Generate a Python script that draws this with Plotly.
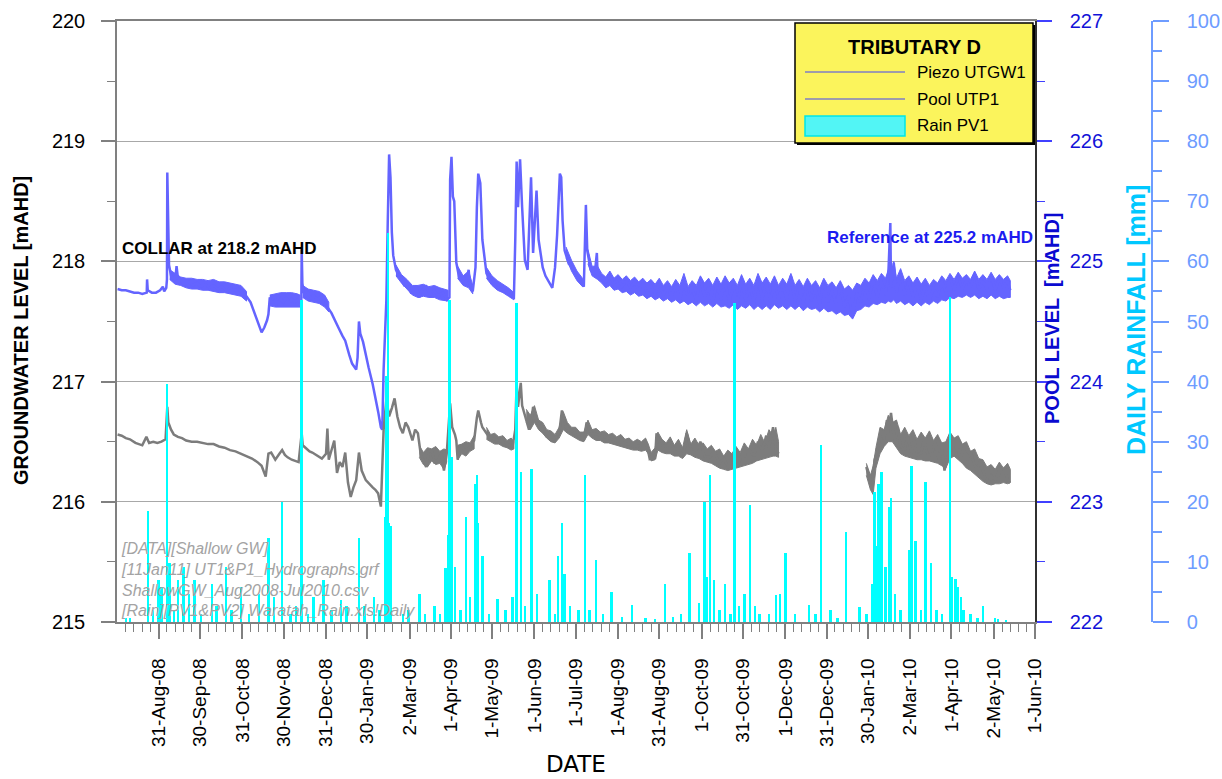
import pandas as pd
import plotly.graph_objects as go

# ---------------------------------------------------------------- data
tick_labels = ["31-Aug-08", "30-Sep-08", "31-Oct-08", "30-Nov-08", "31-Dec-08",
               "30-Jan-09", "2-Mar-09", "1-Apr-09", "1-May-09", "1-Jun-09",
               "1-Jul-09", "1-Aug-09", "31-Aug-09", "1-Oct-09", "31-Oct-09",
               "1-Dec-09", "31-Dec-09", "30-Jan-10", "2-Mar-10", "1-Apr-10",
               "2-May-10", "1-Jun-10"]

# Piezometer UTGW1 groundwater level [mAHD]
piezo_readings = [
    ("2008-08-01", 217.77), ("2008-08-04", 217.76), ("2008-08-07", 217.76), ("2008-08-10", 217.75),
    ("2008-08-13", 217.74), ("2008-08-16", 217.74), ("2008-08-19", 217.73), ("2008-08-22 06:00", 217.74),
    ("2008-08-22 12:00", 217.85), ("2008-08-23", 217.76), ("2008-08-26", 217.74), ("2008-08-29", 217.74),
    ("2008-09-01", 217.76), ("2008-09-03", 217.79), ("2008-09-04", 217.75), ("2008-09-05 12:00", 217.78),
    ("2008-09-06 00:00", 217.85), ("2008-09-06 06:00", 218.74), ("2008-09-06 18:00", 218.20),
    ("2008-09-07 12:00", 217.97), ("2008-09-09", 217.88), ("2008-09-11", 217.86), ("2008-09-12", 217.84),
    ("2008-09-13", 217.96), ("2008-09-14", 217.86), ("2008-09-16", 217.84), ("2008-09-19", 217.81),
    ("2008-09-22", 217.83), ("2008-09-25", 217.80), ("2008-09-28", 217.82), ("2008-10-01", 217.79),
    ("2008-10-04", 217.81), ("2008-10-07", 217.78), ("2008-10-10", 217.80), ("2008-10-13", 217.77),
    ("2008-10-16", 217.79), ("2008-10-19", 217.76), ("2008-10-22", 217.78), ("2008-10-25", 217.76),
    ("2008-10-28", 217.77), ("2008-10-31", 217.74), ("2008-11-03", 217.71), ("2008-11-06", 217.66),
    ("2008-11-09", 217.57), ("2008-11-12", 217.47), ("2008-11-14", 217.41), ("2008-11-16", 217.45),
    ("2008-11-18", 217.51), ("2008-11-19", 217.56), ("2008-11-20", 217.70), ("2008-11-22", 217.64),
    ("2008-11-24", 217.68), ("2008-11-26", 217.65), ("2008-11-28", 217.69), ("2008-11-30", 217.66),
    ("2008-12-02", 217.70), ("2008-12-04", 217.65), ("2008-12-06", 217.69), ("2008-12-08", 217.66),
    ("2008-12-10", 217.68), ("2008-12-12", 217.66), ("2008-12-13 00:00", 217.68), ("2008-12-13 06:00", 218.10),
    ("2008-12-13 18:00", 217.82), ("2008-12-14 12:00", 217.75), ("2008-12-16", 217.71), ("2008-12-18", 217.74),
    ("2008-12-20", 217.69), ("2008-12-22", 217.72), ("2008-12-24", 217.68), ("2008-12-26", 217.70),
    ("2008-12-29", 217.66), ("2009-01-01", 217.62), ("2009-01-04", 217.57), ("2009-01-07", 217.49),
    ("2009-01-09", 217.45), ("2009-01-12", 217.38), ("2009-01-14", 217.34), ("2009-01-17", 217.22),
    ("2009-01-19", 217.15), ("2009-01-22", 217.10), ("2009-01-23", 217.20), ("2009-01-24", 217.50),
    ("2009-01-25", 217.40), ("2009-01-27", 217.33), ("2009-01-29", 217.22), ("2009-01-31", 217.12),
    ("2009-02-03", 216.98), ("2009-02-05", 216.87), ("2009-02-07", 216.75), ("2009-02-09", 216.62),
    ("2009-02-10", 216.60), ("2009-02-11", 217.10), ("2009-02-12", 217.45), ("2009-02-13", 217.68),
    ("2009-02-14", 218.32), ("2009-02-15", 218.89), ("2009-02-16", 218.70), ("2009-02-17", 218.24),
    ("2009-02-18", 218.05), ("2009-02-20", 217.93), ("2009-02-22", 217.88), ("2009-02-24", 217.85),
    ("2009-02-26", 217.80), ("2009-03-01", 217.79), ("2009-03-03", 217.74), ("2009-03-06", 217.74),
    ("2009-03-07", 217.80), ("2009-03-09", 217.70), ("2009-03-11", 217.76), ("2009-03-14", 217.79),
    ("2009-03-17", 217.72), ("2009-03-20", 217.76), ("2009-03-23", 217.71), ("2009-03-26", 217.74),
    ("2009-03-29", 217.68), ("2009-03-31 00:00", 217.70), ("2009-03-31 12:00", 218.68),
    ("2009-04-01 12:00", 218.87), ("2009-04-02 12:00", 218.54), ("2009-04-03 12:00", 218.50),
    ("2009-04-05", 217.99), ("2009-04-07", 217.87), ("2009-04-09", 217.84), ("2009-04-12", 217.82),
    ("2009-04-14", 217.93), ("2009-04-15", 217.80), ("2009-04-17", 217.75), ("2009-04-19", 217.95),
    ("2009-04-20", 218.45), ("2009-04-21", 218.73), ("2009-04-22 12:00", 218.65), ("2009-04-24", 218.18),
    ("2009-04-27", 217.90), ("2009-04-30", 217.84), ("2009-05-04", 217.79), ("2009-05-07", 217.77),
    ("2009-05-11", 217.75), ("2009-05-14", 217.72), ("2009-05-17", 217.70), ("2009-05-18", 218.18),
    ("2009-05-19", 218.83), ("2009-05-20", 218.45), ("2009-05-21 12:00", 218.85), ("2009-05-23", 218.45),
    ("2009-05-25", 218.01), ("2009-05-27", 217.93), ("2009-05-28", 218.29), ("2009-05-29 12:00", 218.70),
    ("2009-05-31", 218.07), ("2009-06-01", 218.26), ("2009-06-02 12:00", 218.59), ("2009-06-04", 218.18),
    ("2009-06-07", 217.95), ("2009-06-09", 217.88), ("2009-06-12", 217.82), ("2009-06-14", 217.78),
    ("2009-06-16", 217.95), ("2009-06-17 12:00", 218.22), ("2009-06-19 12:00", 218.73),
    ("2009-06-20 12:00", 218.70), ("2009-06-21 12:00", 218.34), ("2009-06-23", 218.09), ("2009-06-26", 217.98),
    ("2009-06-29", 217.95), ("2009-07-02", 217.87), ("2009-07-05", 217.83), ("2009-07-07", 217.79),
    ("2009-07-08", 218.18), ("2009-07-08 12:00", 218.47), ("2009-07-09 12:00", 218.09), ("2009-07-12", 217.93),
    ("2009-07-15", 217.90), ("2009-07-16 12:00", 218.07), ("2009-07-17", 217.90), ("2009-07-20", 217.87),
    ("2009-07-23", 217.83), ("2009-07-26", 217.88), ("2009-07-29", 217.81), ("2009-08-01", 217.86),
    ("2009-08-04", 217.79), ("2009-08-07", 217.84), ("2009-08-10", 217.78), ("2009-08-13", 217.83),
    ("2009-08-16", 217.76), ("2009-08-19", 217.82), ("2009-08-22", 217.74), ("2009-08-25", 217.80),
    ("2009-08-28", 217.73), ("2009-08-31", 217.81), ("2009-09-03", 217.72), ("2009-09-06", 217.79),
    ("2009-09-09", 217.71), ("2009-09-12", 217.80), ("2009-09-15", 217.68), ("2009-09-18", 217.84),
    ("2009-09-21", 217.69), ("2009-09-24", 217.78), ("2009-09-27", 217.67), ("2009-09-30", 217.86),
    ("2009-10-03", 217.70), ("2009-10-06", 217.79), ("2009-10-09", 217.66), ("2009-10-12", 217.82),
    ("2009-10-15", 217.68), ("2009-10-18", 217.84), ("2009-10-21", 217.66), ("2009-10-24", 217.80),
    ("2009-10-27", 217.64), ("2009-10-30", 217.86), ("2009-11-02", 217.67), ("2009-11-05", 217.80),
    ("2009-11-08", 217.65), ("2009-11-11", 217.87), ("2009-11-14", 217.68), ("2009-11-17", 217.83),
    ("2009-11-20", 217.66), ("2009-11-23", 217.85), ("2009-11-26", 217.67), ("2009-11-29", 217.82),
    ("2009-12-02", 217.68), ("2009-12-05", 217.88), ("2009-12-08", 217.66), ("2009-12-11", 217.80),
    ("2009-12-14", 217.65), ("2009-12-17", 217.83), ("2009-12-20", 217.67), ("2009-12-23", 217.78),
    ("2009-12-26", 217.64), ("2009-12-29", 217.84), ("2010-01-01", 217.66), ("2010-01-04", 217.76),
    ("2010-01-07", 217.64), ("2010-01-10", 217.80), ("2010-01-13", 217.62), ("2010-01-16", 217.72),
    ("2010-01-19", 217.54), ("2010-01-22", 217.74), ("2010-01-25", 217.66), ("2010-01-28", 217.82),
    ("2010-01-31", 217.68), ("2010-02-03", 217.86), ("2010-02-06", 217.70), ("2010-02-09", 217.84),
    ("2010-02-12", 217.72), ("2010-02-14", 217.88), ("2010-02-15 12:00", 218.32), ("2010-02-16", 217.78),
    ("2010-02-18", 217.99), ("2010-02-20", 217.74), ("2010-02-23", 217.90), ("2010-02-26", 217.72),
    ("2010-03-01", 217.84), ("2010-03-04", 217.70), ("2010-03-07", 217.82), ("2010-03-10", 217.68),
    ("2010-03-13", 217.80), ("2010-03-16", 217.66), ("2010-03-19", 217.79), ("2010-03-22", 217.70),
    ("2010-03-25", 217.84), ("2010-03-28", 217.74), ("2010-03-31", 217.86), ("2010-04-03", 217.76),
    ("2010-04-06", 217.88), ("2010-04-09", 217.77), ("2010-04-12", 217.85), ("2010-04-15", 217.78),
    ("2010-04-18", 217.90), ("2010-04-21", 217.76), ("2010-04-24", 217.84), ("2010-04-27", 217.77),
    ("2010-04-30", 217.88), ("2010-05-03", 217.76), ("2010-05-06", 217.86), ("2010-05-09", 217.78),
    ("2010-05-12", 217.84), ("2010-05-14", 217.76),
]

# Spread of the hourly UTGW1 logger readings (date, low, high) over the noisier stretches
piezo_spread = [
    [("2008-09-08", 217.85, 217.93), ("2008-09-12", 217.81, 217.90), ("2008-09-16", 217.80, 217.87),
     ("2008-09-20", 217.78, 217.86), ("2008-09-24", 217.77, 217.86), ("2008-09-28", 217.77, 217.85),
     ("2008-10-02", 217.76, 217.85), ("2008-10-06", 217.76, 217.84), ("2008-10-10", 217.75, 217.85),
     ("2008-10-14", 217.74, 217.83), ("2008-10-18", 217.74, 217.83), ("2008-10-22", 217.73, 217.82),
     ("2008-10-26", 217.72, 217.81), ("2008-10-30", 217.71, 217.80), ("2008-11-03", 217.67, 217.75)],
    [("2008-11-20", 217.63, 217.72), ("2008-11-24", 217.62, 217.73), ("2008-11-28", 217.62, 217.74),
     ("2008-12-02", 217.62, 217.74), ("2008-12-06", 217.62, 217.74), ("2008-12-10", 217.62, 217.73),
     ("2008-12-12", 217.62, 217.72)],
    [("2008-12-14", 217.70, 217.80), ("2008-12-18", 217.67, 217.77), ("2008-12-22", 217.66, 217.76),
     ("2008-12-26", 217.65, 217.75), ("2008-12-30", 217.62, 217.72), ("2009-01-02", 217.58, 217.66)],
    [("2009-02-20", 217.88, 217.97), ("2009-02-24", 217.82, 217.89), ("2009-02-28", 217.77, 217.85),
     ("2009-03-04", 217.72, 217.80), ("2009-03-08", 217.70, 217.80), ("2009-03-12", 217.71, 217.81),
     ("2009-03-16", 217.70, 217.79), ("2009-03-20", 217.70, 217.80), ("2009-03-24", 217.68, 217.78),
     ("2009-03-30", 217.67, 217.76)],
    [("2009-04-06", 217.86, 217.96), ("2009-04-10", 217.80, 217.88), ("2009-04-14", 217.78, 217.92),
     ("2009-04-17", 217.73, 217.80)],
    [("2009-04-27", 217.86, 217.95), ("2009-05-01", 217.80, 217.88), ("2009-05-05", 217.76, 217.84),
     ("2009-05-09", 217.74, 217.81), ("2009-05-13", 217.71, 217.78), ("2009-05-17", 217.68, 217.74)],
    [("2009-06-24", 218.03, 218.12), ("2009-06-28", 217.92, 218.01), ("2009-07-02", 217.84, 217.92),
     ("2009-07-06", 217.79, 217.86)],
    [("2009-07-10", 217.98, 218.10), ("2009-07-13", 217.88, 217.96), ("2009-07-17", 217.85, 217.96),
     ("2009-07-20", 217.82, 217.90), ("2009-07-23", 217.78, 217.87), ("2009-07-26", 217.80, 217.92),
     ("2009-07-29", 217.76, 217.86), ("2009-08-01", 217.77, 217.89), ("2009-08-04", 217.74, 217.85),
     ("2009-08-07", 217.75, 217.88), ("2009-08-10", 217.72, 217.84), ("2009-08-13", 217.74, 217.87),
     ("2009-08-16", 217.71, 217.83), ("2009-08-19", 217.72, 217.86), ("2009-08-22", 217.69, 217.82),
     ("2009-08-25", 217.71, 217.85), ("2009-08-28", 217.68, 217.81), ("2009-08-31", 217.70, 217.86),
     ("2009-09-03", 217.67, 217.80), ("2009-09-06", 217.69, 217.84), ("2009-09-09", 217.66, 217.79),
     ("2009-09-12", 217.68, 217.85), ("2009-09-15", 217.65, 217.80), ("2009-09-18", 217.67, 217.90),
     ("2009-09-21", 217.64, 217.79), ("2009-09-24", 217.66, 217.84), ("2009-09-27", 217.63, 217.80),
     ("2009-09-30", 217.66, 217.88), ("2009-10-03", 217.63, 217.82), ("2009-10-06", 217.65, 217.86),
     ("2009-10-09", 217.62, 217.80), ("2009-10-12", 217.65, 217.87), ("2009-10-15", 217.62, 217.81),
     ("2009-10-18", 217.63, 217.88), ("2009-10-21", 217.61, 217.82), ("2009-10-24", 217.64, 217.86),
     ("2009-10-27", 217.60, 217.80), ("2009-10-30", 217.63, 217.89), ("2009-11-02", 217.61, 217.81),
     ("2009-11-05", 217.64, 217.86), ("2009-11-08", 217.60, 217.80), ("2009-11-11", 217.63, 217.90),
     ("2009-11-14", 217.60, 217.82), ("2009-11-17", 217.63, 217.87), ("2009-11-20", 217.60, 217.81),
     ("2009-11-23", 217.64, 217.88), ("2009-11-26", 217.61, 217.80), ("2009-11-29", 217.63, 217.86),
     ("2009-12-02", 217.60, 217.81), ("2009-12-05", 217.63, 217.90), ("2009-12-08", 217.60, 217.80),
     ("2009-12-11", 217.63, 217.85), ("2009-12-14", 217.59, 217.79), ("2009-12-17", 217.62, 217.86),
     ("2009-12-20", 217.60, 217.80), ("2009-12-23", 217.61, 217.84), ("2009-12-26", 217.58, 217.78),
     ("2009-12-29", 217.61, 217.86), ("2010-01-01", 217.58, 217.80), ("2010-01-04", 217.59, 217.83),
     ("2010-01-07", 217.56, 217.78), ("2010-01-10", 217.58, 217.84), ("2010-01-13", 217.55, 217.77),
     ("2010-01-16", 217.56, 217.80), ("2010-01-19", 217.52, 217.76), ("2010-01-22", 217.59, 217.82),
     ("2010-01-25", 217.60, 217.80), ("2010-01-28", 217.63, 217.86), ("2010-01-31", 217.62, 217.82),
     ("2010-02-03", 217.65, 217.89), ("2010-02-06", 217.64, 217.84), ("2010-02-09", 217.66, 217.90),
     ("2010-02-12", 217.65, 217.86), ("2010-02-14", 217.67, 217.93), ("2010-02-16", 217.66, 217.88),
     ("2010-02-18", 217.68, 218.00), ("2010-02-20", 217.65, 217.86), ("2010-02-23", 217.67, 217.94),
     ("2010-02-26", 217.64, 217.84), ("2010-03-01", 217.66, 217.88), ("2010-03-04", 217.63, 217.82),
     ("2010-03-07", 217.66, 217.87), ("2010-03-10", 217.63, 217.81), ("2010-03-13", 217.66, 217.86),
     ("2010-03-16", 217.64, 217.80), ("2010-03-19", 217.67, 217.85), ("2010-03-22", 217.65, 217.82),
     ("2010-03-25", 217.68, 217.88), ("2010-03-28", 217.67, 217.84), ("2010-03-31", 217.70, 217.90),
     ("2010-04-03", 217.69, 217.85), ("2010-04-06", 217.71, 217.91), ("2010-04-09", 217.70, 217.86),
     ("2010-04-12", 217.72, 217.89), ("2010-04-15", 217.70, 217.85), ("2010-04-18", 217.72, 217.92),
     ("2010-04-21", 217.69, 217.85), ("2010-04-24", 217.71, 217.89), ("2010-04-27", 217.69, 217.85),
     ("2010-04-30", 217.72, 217.91), ("2010-05-03", 217.69, 217.85), ("2010-05-06", 217.71, 217.89),
     ("2010-05-09", 217.69, 217.85), ("2010-05-12", 217.70, 217.88), ("2010-05-14", 217.70, 217.84)],
]

# Pool UTP1 water level [mAHD]; None marks the logger gap Nov 2009 - Jan 2010
pool_readings = [
    ("2008-08-01", 223.56), ("2008-08-04", 223.55), ("2008-08-07", 223.53), ("2008-08-10", 223.52),
    ("2008-08-14", 223.49), ("2008-08-19", 223.47), ("2008-08-22", 223.54), ("2008-08-24", 223.49),
    ("2008-08-27", 223.50), ("2008-08-30", 223.49), ("2008-09-02", 223.50), ("2008-09-05", 223.52),
    ("2008-09-06 06:00", 223.79), ("2008-09-07", 223.66), ("2008-09-09", 223.60), ("2008-09-11", 223.56),
    ("2008-09-14", 223.54), ("2008-09-17", 223.53), ("2008-09-20", 223.51), ("2008-09-24", 223.50),
    ("2008-09-28", 223.50), ("2008-10-02", 223.49), ("2008-10-06", 223.48), ("2008-10-10", 223.48),
    ("2008-10-14", 223.46), ("2008-10-18", 223.45), ("2008-10-22", 223.43), ("2008-10-26", 223.42),
    ("2008-10-30", 223.40), ("2008-11-03", 223.38), ("2008-11-07", 223.36), ("2008-11-11", 223.33),
    ("2008-11-14", 223.30), ("2008-11-17", 223.21), ("2008-11-19", 223.40), ("2008-11-21", 223.41),
    ("2008-11-24", 223.35), ("2008-11-27", 223.40), ("2008-11-29", 223.43), ("2008-12-01", 223.39),
    ("2008-12-03", 223.37), ("2008-12-06", 223.35), ("2008-12-09", 223.34), ("2008-12-11", 223.33),
    ("2008-12-13 06:00", 223.57), ("2008-12-14", 223.47), ("2008-12-16", 223.45), ("2008-12-19", 223.42),
    ("2008-12-21", 223.41), ("2008-12-24", 223.39), ("2008-12-28", 223.36), ("2008-12-31", 223.40),
    ("2009-01-01", 223.61), ("2009-01-02", 223.35), ("2009-01-04", 223.42), ("2009-01-06", 223.51),
    ("2009-01-08", 223.24), ("2009-01-10", 223.33), ("2009-01-12", 223.29), ("2009-01-14", 223.41),
    ("2009-01-16", 223.16), ("2009-01-18", 223.04), ("2009-01-20", 223.12), ("2009-01-22", 223.18),
    ("2009-01-24", 223.41), ("2009-01-26", 223.26), ("2009-01-29", 223.18), ("2009-02-01", 223.14),
    ("2009-02-03", 223.12), ("2009-02-05", 223.10), ("2009-02-07", 223.07), ("2009-02-09", 222.96),
    ("2009-02-10", 223.24), ("2009-02-11", 223.60), ("2009-02-13", 223.85), ("2009-02-15", 223.71),
    ("2009-02-17", 223.78), ("2009-02-19", 223.86), ("2009-02-21", 223.71), ("2009-02-23", 223.62),
    ("2009-02-25", 223.57), ("2009-02-27", 223.66), ("2009-03-01", 223.62), ("2009-03-04", 223.51),
    ("2009-03-06", 223.60), ("2009-03-08", 223.57), ("2009-03-10", 223.40), ("2009-03-12", 223.35),
    ("2009-03-14", 223.29), ("2009-03-16", 223.42), ("2009-03-18", 223.43), ("2009-03-20", 223.33),
    ("2009-03-23", 223.35), ("2009-03-25", 223.41), ("2009-03-27", 223.26), ("2009-03-29", 223.40),
    ("2009-03-31 12:00", 223.82), ("2009-04-02", 223.62), ("2009-04-04", 223.56), ("2009-04-05", 223.51),
    ("2009-04-06", 223.35), ("2009-04-08", 223.44), ("2009-04-09", 223.46), ("2009-04-12", 223.42),
    ("2009-04-14", 223.45), ("2009-04-16", 223.49), ("2009-04-18", 223.51), ("2009-04-20", 223.70),
    ("2009-04-21", 223.76), ("2009-04-23", 223.66), ("2009-04-24", 223.62), ("2009-04-27", 223.57),
    ("2009-04-29", 223.54), ("2009-05-03", 223.52), ("2009-05-06", 223.51), ("2009-05-09", 223.50),
    ("2009-05-12", 223.48), ("2009-05-16", 223.46), ("2009-05-18", 223.60), ("2009-05-19", 223.99),
    ("2009-05-20", 223.79), ("2009-05-22", 223.99), ("2009-05-23", 223.80), ("2009-05-25", 223.71),
    ("2009-05-28", 223.60), ("2009-05-30", 223.70), ("2009-05-31", 223.79), ("2009-06-02", 223.70),
    ("2009-06-03", 223.66), ("2009-06-06", 223.60), ("2009-06-10", 223.54), ("2009-06-14", 223.51),
    ("2009-06-17", 223.55), ("2009-06-19", 223.57), ("2009-06-21", 223.76), ("2009-06-24", 223.62),
    ("2009-06-27", 223.60), ("2009-07-01", 223.57), ("2009-07-04", 223.54), ("2009-07-07", 223.51),
    ("2009-07-09", 223.66), ("2009-07-11", 223.60), ("2009-07-13", 223.57), ("2009-07-17", 223.56),
    ("2009-07-22", 223.54), ("2009-07-27", 223.52), ("2009-08-02", 223.50), ("2009-08-08", 223.48),
    ("2009-08-14", 223.46), ("2009-08-18", 223.47), ("2009-08-22", 223.47), ("2009-08-24", 223.36),
    ("2009-08-26", 223.38), ("2009-08-28", 223.37), ("2009-08-29", 223.57), ("2009-09-01", 223.47),
    ("2009-09-05", 223.46), ("2009-09-08", 223.50), ("2009-09-11", 223.43), ("2009-09-15", 223.46),
    ("2009-09-18", 223.40), ("2009-09-20", 223.57), ("2009-09-23", 223.44), ("2009-09-27", 223.43),
    ("2009-09-30", 223.50), ("2009-10-03", 223.38), ("2009-10-07", 223.37), ("2009-10-10", 223.42),
    ("2009-10-14", 223.32), ("2009-10-17", 223.36), ("2009-10-21", 223.28), ("2009-10-24", 223.33),
    ("2009-10-27", 223.30), ("2009-10-30", 223.38), ("2009-11-02", 223.35), ("2009-11-05", 223.43),
    ("2009-11-08", 223.38), ("2009-11-11", 223.50), ("2009-11-14", 223.42), ("2009-11-17", 223.55),
    ("2009-11-19", 223.45), ("2009-11-22", 223.62), ("2009-11-24", 223.44), ("2009-11-26", 223.40),
    ("2009-12-15", None),
    ("2010-01-29", 223.29), ("2010-01-31", 223.20), ("2010-02-02", 223.10), ("2010-02-04", 223.35),
    ("2010-02-06", 223.42), ("2010-02-07", 223.49), ("2010-02-09", 223.60), ("2010-02-11", 223.52),
    ("2010-02-13", 223.68), ("2010-02-14", 223.58), ("2010-02-16", 223.74), ("2010-02-18", 223.55),
    ("2010-02-19", 223.51), ("2010-02-21", 223.62), ("2010-02-23", 223.46), ("2010-02-26", 223.43),
    ("2010-02-28", 223.55), ("2010-03-03", 223.40), ("2010-03-05", 223.52), ("2010-03-07", 223.38),
    ("2010-03-10", 223.41), ("2010-03-12", 223.52), ("2010-03-15", 223.38), ("2010-03-18", 223.40),
    ("2010-03-20", 223.50), ("2010-03-23", 223.35), ("2010-03-25", 223.45), ("2010-03-27", 223.26),
    ("2010-03-29", 223.36), ("2010-04-01", 223.54), ("2010-04-03", 223.42), ("2010-04-06", 223.43),
    ("2010-04-08", 223.36), ("2010-04-10", 223.45), ("2010-04-13", 223.35), ("2010-04-15", 223.42),
    ("2010-04-18", 223.30), ("2010-04-20", 223.26), ("2010-04-22", 223.34), ("2010-04-25", 223.22),
    ("2010-04-28", 223.16), ("2010-04-30", 223.22), ("2010-05-03", 223.18), ("2010-05-05", 223.24),
    ("2010-05-08", 223.20), ("2010-05-10", 223.29), ("2010-05-12", 223.17), ("2010-05-14", 223.16),
]

# Spread of the hourly UTP1 logger readings (date, low, high)
pool_spread = [
    [("2009-03-09", 223.37, 223.47), ("2009-03-12", 223.31, 223.41), ("2009-03-15", 223.29, 223.45),
     ("2009-03-18", 223.34, 223.44), ("2009-03-21", 223.31, 223.46), ("2009-03-24", 223.32, 223.42),
     ("2009-03-27", 223.27, 223.44), ("2009-03-29", 223.33, 223.43)],
    [("2009-04-06", 223.35, 223.47), ("2009-04-09", 223.40, 223.48), ("2009-04-12", 223.38, 223.50),
     ("2009-04-15", 223.42, 223.49), ("2009-04-18", 223.44, 223.55)],
    [("2009-04-27", 223.52, 223.62), ("2009-04-30", 223.50, 223.56), ("2009-05-03", 223.48, 223.57),
     ("2009-05-06", 223.48, 223.54), ("2009-05-09", 223.46, 223.55), ("2009-05-12", 223.45, 223.51),
     ("2009-05-15", 223.43, 223.53), ("2009-05-17", 223.44, 223.50)],
    [("2009-05-26", 223.66, 223.77), ("2009-05-29", 223.60, 223.72), ("2009-06-01", 223.66, 223.80),
     ("2009-06-04", 223.60, 223.68), ("2009-06-07", 223.57, 223.66), ("2009-06-10", 223.53, 223.60),
     ("2009-06-13", 223.50, 223.59), ("2009-06-16", 223.49, 223.56), ("2009-06-19", 223.53, 223.62),
     ("2009-06-22", 223.60, 223.75), ("2009-06-25", 223.57, 223.66), ("2009-06-28", 223.55, 223.62),
     ("2009-07-01", 223.53, 223.62), ("2009-07-04", 223.51, 223.58), ("2009-07-07", 223.50, 223.58),
     ("2009-07-10", 223.56, 223.68), ("2009-07-13", 223.53, 223.60), ("2009-07-16", 223.51, 223.61),
     ("2009-07-19", 223.51, 223.58), ("2009-07-22", 223.49, 223.59), ("2009-07-25", 223.49, 223.56),
     ("2009-07-28", 223.48, 223.57), ("2009-07-31", 223.47, 223.54), ("2009-08-03", 223.46, 223.56),
     ("2009-08-06", 223.45, 223.52), ("2009-08-09", 223.44, 223.53), ("2009-08-12", 223.43, 223.50),
     ("2009-08-15", 223.43, 223.52), ("2009-08-18", 223.42, 223.50), ("2009-08-21", 223.43, 223.53),
     ("2009-08-23", 223.40, 223.48), ("2009-08-25", 223.34, 223.41), ("2009-08-28", 223.35, 223.45),
     ("2009-08-30", 223.43, 223.58), ("2009-09-02", 223.41, 223.52), ("2009-09-05", 223.40, 223.49),
     ("2009-09-08", 223.40, 223.54), ("2009-09-11", 223.38, 223.47), ("2009-09-14", 223.38, 223.52),
     ("2009-09-17", 223.36, 223.45), ("2009-09-20", 223.40, 223.60), ("2009-09-23", 223.39, 223.48),
     ("2009-09-26", 223.37, 223.53), ("2009-09-29", 223.36, 223.47), ("2009-10-02", 223.34, 223.49),
     ("2009-10-05", 223.33, 223.44), ("2009-10-08", 223.32, 223.47), ("2009-10-11", 223.30, 223.42),
     ("2009-10-14", 223.28, 223.44), ("2009-10-17", 223.27, 223.38), ("2009-10-20", 223.26, 223.43),
     ("2009-10-23", 223.27, 223.40), ("2009-10-26", 223.28, 223.46), ("2009-10-29", 223.29, 223.41),
     ("2009-11-01", 223.30, 223.49), ("2009-11-04", 223.31, 223.44), ("2009-11-07", 223.32, 223.52),
     ("2009-11-10", 223.34, 223.47), ("2009-11-13", 223.35, 223.56), ("2009-11-16", 223.36, 223.49),
     ("2009-11-19", 223.37, 223.60), ("2009-11-22", 223.38, 223.55), ("2009-11-24", 223.38, 223.62),
     ("2009-11-26", 223.37, 223.50)],
    [("2010-01-29", 223.22, 223.32), ("2010-02-01", 223.10, 223.22), ("2010-02-03", 223.06, 223.30),
     ("2010-02-05", 223.28, 223.45), ("2010-02-08", 223.40, 223.62), ("2010-02-11", 223.46, 223.60),
     ("2010-02-14", 223.50, 223.72), ("2010-02-17", 223.50, 223.66), ("2010-02-20", 223.45, 223.68),
     ("2010-02-23", 223.40, 223.56), ("2010-02-26", 223.38, 223.62), ("2010-03-01", 223.37, 223.55),
     ("2010-03-04", 223.36, 223.60), ("2010-03-07", 223.35, 223.52), ("2010-03-10", 223.35, 223.58),
     ("2010-03-13", 223.34, 223.53), ("2010-03-16", 223.34, 223.59), ("2010-03-19", 223.33, 223.51),
     ("2010-03-22", 223.32, 223.56), ("2010-03-25", 223.30, 223.49), ("2010-03-28", 223.28, 223.50),
     ("2010-03-31", 223.36, 223.58), ("2010-04-03", 223.38, 223.53), ("2010-04-06", 223.35, 223.55),
     ("2010-04-09", 223.32, 223.48), ("2010-04-12", 223.28, 223.50), ("2010-04-15", 223.26, 223.42),
     ("2010-04-18", 223.23, 223.44), ("2010-04-21", 223.20, 223.36), ("2010-04-24", 223.17, 223.35),
     ("2010-04-27", 223.15, 223.29), ("2010-04-30", 223.14, 223.31), ("2010-05-03", 223.15, 223.27),
     ("2010-05-06", 223.15, 223.33), ("2010-05-09", 223.16, 223.28), ("2010-05-12", 223.15, 223.32),
     ("2010-05-14", 223.16, 223.27)],
]

# Daily rainfall at PV1 [mm]
rain_days = [
    "2008-08-07", "2008-08-10", "2008-08-23", "2008-08-27", "2008-08-31", "2008-09-02", "2008-09-06",
    "2008-09-08", "2008-09-11", "2008-09-14", "2008-09-18", "2008-09-22", "2008-09-26", "2008-10-01",
    "2008-10-09", "2008-10-12", "2008-10-19", "2008-10-23", "2008-10-30", "2008-11-05", "2008-11-12",
    "2008-11-19", "2008-11-23", "2008-11-29", "2008-12-05", "2008-12-09", "2008-12-13", "2008-12-18",
    "2008-12-22", "2008-12-29", "2009-01-04", "2009-01-11", "2009-01-15", "2009-01-24", "2009-01-28",
    "2009-02-04", "2009-02-08", "2009-02-12", "2009-02-13", "2009-02-14", "2009-02-15", "2009-02-16",
    "2009-02-25", "2009-03-01", "2009-03-09", "2009-03-13", "2009-03-20", "2009-03-24", "2009-03-28",
    "2009-03-30", "2009-03-31", "2009-04-02", "2009-04-04", "2009-04-08", "2009-04-12", "2009-04-15",
    "2009-04-19", "2009-04-20", "2009-04-21", "2009-04-24", "2009-04-29", "2009-05-05", "2009-05-11",
    "2009-05-16", "2009-05-19", "2009-05-22", "2009-05-25", "2009-05-30", "2009-06-03", "2009-06-12",
    "2009-06-16", "2009-06-18", "2009-06-21", "2009-06-23", "2009-06-27", "2009-07-03", "2009-07-08",
    "2009-07-11", "2009-07-16", "2009-07-21", "2009-07-27", "2009-08-04", "2009-08-11", "2009-08-21",
    "2009-08-28", "2009-09-04", "2009-09-10", "2009-09-16", "2009-09-22", "2009-09-29", "2009-10-03",
    "2009-10-05", "2009-10-07", "2009-10-10", "2009-10-14", "2009-10-18", "2009-10-22", "2009-10-25",
    "2009-10-28", "2009-11-01", "2009-11-05", "2009-11-09", "2009-11-12", "2009-11-19", "2009-11-24",
    "2009-11-27", "2009-12-01", "2009-12-08", "2009-12-18", "2009-12-23", "2009-12-27", "2010-01-03",
    "2010-01-08", "2010-01-14", "2010-01-24", "2010-01-29", "2010-02-02", "2010-02-04", "2010-02-05",
    "2010-02-07", "2010-02-09", "2010-02-12", "2010-02-15", "2010-02-16", "2010-02-19", "2010-02-23",
    "2010-03-01", "2010-03-03", "2010-03-06", "2010-03-10", "2010-03-13", "2010-03-17", "2010-03-21",
    "2010-03-25", "2010-03-31", "2010-04-01", "2010-04-04", "2010-04-06", "2010-04-08", "2010-04-10",
    "2010-04-15", "2010-04-20", "2010-04-24", "2010-05-03", "2010-05-05", "2010-05-11",
]
rain_mm = [
    0.6, 0.6, 18.5, 2.0, 7.0, 5.9, 39.6,
    9.8, 2.0, 7.0, 9.2, 4.7, 7.0, 1.4,
    6.4, 2.6, 9.2, 2.0, 5.9, 1.4, 4.7,
    14.0, 4.2, 19.9, 1.4, 2.6, 53.6, 1.4,
    4.2, 7.0, 2.0, 3.6, 2.6, 14.0, 2.6,
    4.2, 2.0, 17.5, 41.0, 64.7, 16.4, 16.0,
    1.4, 2.0, 4.7, 1.4, 2.6, 1.4, 9.0,
    14.5, 53.6, 27.5, 9.2, 2.0, 17.5, 4.2,
    23.0, 24.5, 16.4, 11.0, 1.4, 3.9, 2.0,
    4.2, 53.0, 25.0, 2.6, 25.5, 4.7, 7.0,
    1.4, 11.0, 16.4, 8.0, 2.6, 2.0, 24.5,
    2.0, 10.3, 1.4, 5.0, 0.9, 2.9, 0.6,
    0.5, 6.4, 0.9, 1.4, 11.5, 3.1, 19.9,
    7.5, 24.5, 7.0, 2.0, 6.4, 1.4, 53.0,
    2.6, 4.7, 19.5, 2.6, 1.4, 1.4, 4.5,
    4.7, 11.5, 1.4, 2.9, 1.4, 29.4, 2.0,
    0.6, 14.9, 2.5, 1.4, 6.4, 21.6, 12.7,
    23.0, 25.0, 9.2, 19.2, 20.6, 4.7, 2.0,
    12.0, 26.0, 13.4, 2.0, 23.3, 9.8, 2.0,
    1.4, 54.0, 7.5, 7.2, 5.9, 4.2, 2.0,
    1.4, 0.6, 2.6, 0.6, 0.5, 0.4,
]

# --------------------------------------------------------------- styling
W, H = 1222, 779
M_L, M_R, M_T, M_B = 117, 40, 21, 157
PW = W - M_L - M_R
PH = H - M_T - M_B
PLOT_RIGHT = 1035          # right edge of the plotting box (pool axis)
RAIN_AXIS_X = 1152         # rainfall axis line

def fx(px):
    return (px - M_L) / PW

def fy(py):
    return (H - M_B - py) / PH

FONT = "Liberation Sans, Arial, sans-serif"
PIEZO_COLOR = "#6464ff"
POOL_COLOR = "#7c7c7c"
RAIN_COLOR = "#00ffff"
POOL_AXIS_COLOR = "#1212d8"
RAIN_AXIS_COLOR = "#6e9cff"
RAIN_TITLE_COLOR = "#00c8ff"
LEGEND_LINE_COLOR = "#7f7fc4"

piezo_x = [d for d, _ in piezo_readings]
piezo_y = [v for _, v in piezo_readings]
pool_x = [d for d, _ in pool_readings]
pool_y = [v for _, v in pool_readings]

tick_dates = list(pd.to_datetime(tick_labels, format="%d-%b-%y"))
x_start = tick_dates[0] - (tick_dates[-1] - tick_dates[0]) / (len(tick_dates) - 1)
x_end = tick_dates[-1]
major = [x_start] + tick_dates
minor_ticks = []
for a, b in zip(major[:-1], major[1:]):
    for k in range(1, 5):
        minor_ticks.append(a + (b - a) * k / 5)

fig = go.Figure()


def add_spread(segments, color, axis):
    """Shade the low/high envelope of the logger readings."""
    for seg in segments:
        xs = [d for d, _, _ in seg]
        lo = [l for _, l, _ in seg]
        hi = [h for _, _, h in seg]
        fig.add_trace(go.Scatter(
            x=xs + xs[::-1], y=hi + lo[::-1], mode="lines", fill="toself",
            fillcolor=color, line=dict(color=color, width=1), yaxis=axis,
            hoverinfo="skip", showlegend=False))


add_spread(piezo_spread, PIEZO_COLOR, "y")
fig.add_trace(go.Scatter(
    x=piezo_x, y=piezo_y, mode="lines", name="Piezo UTGW1",
    line=dict(color=PIEZO_COLOR, width=2.5), yaxis="y", showlegend=False))

add_spread(pool_spread, POOL_COLOR, "y2")
fig.add_trace(go.Scatter(
    x=pool_x, y=pool_y, mode="lines", name="Pool UTP1", connectgaps=False,
    line=dict(color=POOL_COLOR, width=2.5), yaxis="y2", showlegend=False))

fig.add_trace(go.Bar(
    x=rain_days, y=rain_mm, name="Rain PV1", yaxis="y3",
    marker=dict(color=RAIN_COLOR, line=dict(width=0)),
    width=86400000 * 1.8, showlegend=False))

tick_font = dict(family=FONT, size=20, color="black")

fig.update_layout(
    template="none",
    width=W, height=H,
    margin=dict(l=M_L, r=M_R, t=M_T, b=M_B, autoexpand=False),
    paper_bgcolor="white", plot_bgcolor="white",
    font=dict(family=FONT, color="black"),
    bargap=0,
    xaxis=dict(
        domain=[0, fx(PLOT_RIGHT)], type="date", range=[x_start, x_end],
        tickmode="array", tickvals=tick_dates, ticktext=tick_labels,
        tickangle=-90, tickfont=dict(family=FONT, size=19, color="black"),
        ticks="outside", ticklen=15, tickwidth=1.5, tickcolor="#808080",
        ticklabelstandoff=12,
        minor=dict(tickmode="array", tickvals=minor_ticks, ticks="outside",
                   ticklen=8, tickwidth=1, tickcolor="#808080", showgrid=False),
        showline=True, linecolor="#808080", linewidth=1.5, mirror=True,
        showgrid=False, zeroline=False, automargin=False,
    ),
    yaxis=dict(
        range=[215, 220], dtick=1, tick0=215, tickfont=tick_font,
        ticks="outside", ticklen=14, tickwidth=1.5, tickcolor="#808080",
        ticklabelstandoff=12,
        minor=dict(dtick=0.5, ticks="outside", ticklen=8, tickwidth=1,
                   tickcolor="#808080", showgrid=False),
        showline=True, linecolor="#808080", linewidth=1.5,
        showgrid=True, gridcolor="#a8a8a8", gridwidth=1, zeroline=False,
        automargin=False,
    ),
    yaxis2=dict(
        overlaying="y", side="right", anchor="x",
        range=[222, 227], dtick=1, tick0=222,
        tickfont=dict(family=FONT, size=20, color=POOL_AXIS_COLOR),
        ticks="outside", ticklen=15, tickwidth=1.5, tickcolor="#4040ff",
        ticklabelstandoff=14,
        minor=dict(dtick=0.5, ticks="outside", ticklen=8, tickwidth=1,
                   tickcolor="#4040ff", showgrid=False),
        showline=True, linecolor="#303030", linewidth=1.5,
        showgrid=False, zeroline=False, automargin=False,
    ),
    yaxis3=dict(
        overlaying="y", side="right", anchor="free", position=fx(RAIN_AXIS_X),
        range=[0, 100], dtick=10, tick0=0,
        tickfont=dict(family=FONT, size=20, color=RAIN_AXIS_COLOR),
        ticks="outside", ticklen=16, tickwidth=1.5, tickcolor=RAIN_AXIS_COLOR,
        ticklabelstandoff=14,
        minor=dict(dtick=5, ticks="outside", ticklen=9, tickwidth=1.5,
                   tickcolor=RAIN_AXIS_COLOR, showgrid=False),
        showline=True, linecolor=RAIN_AXIS_COLOR, linewidth=1.5,
        showgrid=False, zeroline=False, automargin=False,
    ),
)

# ----------------------------------------------------------- axis titles
fig.add_annotation(text="<b>GROUNDWATER LEVEL [mAHD]</b>", textangle=-90,
                   xref="paper", yref="paper", x=fx(21), y=fy(331),
                   xanchor="center", yanchor="middle", showarrow=False,
                   font=dict(family=FONT, size=20, color="black"))
fig.add_annotation(text="<b>POOL LEVEL  [mAHD]</b>", textangle=-90,
                   xref="paper", yref="paper", x=fx(1052), y=fy(318),
                   xanchor="center", yanchor="middle", showarrow=False,
                   font=dict(family=FONT, size=20, color="#0a0ad0"))
fig.add_annotation(text="<b>DAILY RAINFALL [mm]</b>", textangle=-90,
                   xref="paper", yref="paper", x=fx(1136), y=fy(320),
                   xanchor="center", yanchor="middle", showarrow=False,
                   font=dict(family=FONT, size=25, color=RAIN_TITLE_COLOR))
fig.add_annotation(text="DATE", xref="paper", yref="paper",
                   x=fx(576), y=fy(764), xanchor="center", yanchor="middle",
                   showarrow=False,
                   font=dict(family="DejaVu Sans, sans-serif", size=23, color="black"))

# ------------------------------------------------------ reference levels
fig.add_annotation(text="<b>COLLAR at 218.2 mAHD</b>", xref="paper", yref="y",
                   x=fx(120), y=218.2, xanchor="left", yanchor="top",
                   showarrow=False,
                   font=dict(family=FONT, size=17, color="black"))
fig.add_annotation(text="<b>Reference at 225.2 mAHD</b>", xref="paper", yref="y2",
                   x=fx(PLOT_RIGHT), y=225.2, xanchor="right", yanchor="middle",
                   showarrow=False,
                   font=dict(family=FONT, size=17, color="#1c1cf0"))

# ----------------------------------------------------------- file notes
fig.add_annotation(
    text=("<i>[DATA][Shallow GW]<br>[11Jan11] UT1&P1_Hydrographs.grf<br>"
          "ShallowGW_Aug2008-Jul2010.csv<br>[Rain][PV1&PV2] Waratah_Rain.xls!Daily</i>"),
    xref="paper", yref="paper", x=fx(119), y=fy(621), xanchor="left", yanchor="bottom",
    align="left", showarrow=False,
    font=dict(family=FONT, size=16, color="#a3a3a3"))

# ---------------------------------------------------------------- legend
box_l, box_r, box_t, box_b = 795, 1033, 23, 143
fig.add_shape(type="rect", xref="paper", yref="paper", layer="above",
              x0=fx(box_l + 2), x1=fx(box_r + 2), y0=fy(box_b + 2), y1=fy(box_t + 2),
              fillcolor="black", line=dict(width=0))
fig.add_shape(type="rect", xref="paper", yref="paper", layer="above",
              x0=fx(box_l), x1=fx(box_r), y0=fy(box_b), y1=fy(box_t),
              fillcolor="#fbf45c", line=dict(color="black", width=1.5))
fig.add_annotation(text="<b>TRIBUTARY D</b>", xref="paper", yref="paper",
                   x=fx((box_l + box_r) / 2), y=fy(47), xanchor="center", yanchor="middle",
                   showarrow=False, font=dict(family=FONT, size=20, color="black"))

legend_rows = [("Piezo UTGW1", 72, "line"), ("Pool UTP1", 99, "line"), ("Rain PV1", 126, "box")]
for name, row_y, kind in legend_rows:
    if kind == "line":
        fig.add_shape(type="line", xref="paper", yref="paper", layer="above",
                      x0=fx(805), x1=fx(905), y0=fy(row_y), y1=fy(row_y),
                      line=dict(color=LEGEND_LINE_COLOR, width=1.5))
    else:
        fig.add_shape(type="rect", xref="paper", yref="paper", layer="above",
                      x0=fx(805), x1=fx(905), y0=fy(row_y + 10), y1=fy(row_y - 10),
                      fillcolor="#52f5f5", line=dict(color="#00e6e6", width=1.5))
    fig.add_annotation(text=name, xref="paper", yref="paper",
                       x=fx(915), y=fy(row_y), xanchor="left", yanchor="middle",
                       showarrow=False, font=dict(family=FONT, size=17, color="black"))

fig.write_html("out.html")
